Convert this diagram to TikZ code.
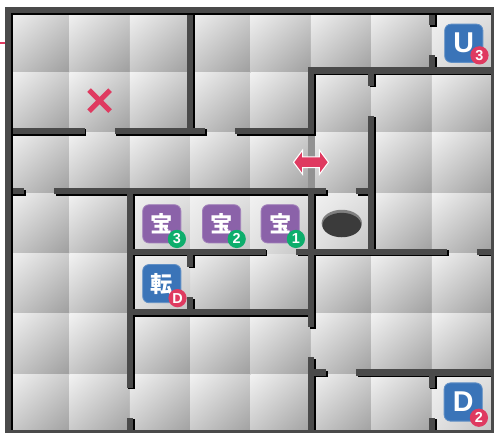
\documentclass[tikz,border=0pt]{standalone}
\usepackage{fontspec}
\setmainfont{Liberation Sans}
\newfontfamily\cjkfont{Noto Sans CJK JP}
\usetikzlibrary{shadings,shapes.misc,shapes.geometric}
\definecolor{wallgray}{HTML}{4A4A4A}
\definecolor{tileblue}{HTML}{3A74B8}
\definecolor{tilepurple}{HTML}{8B62A9}
\definecolor{badgegreen}{HTML}{0DAE6C}
\definecolor{badgered}{HTML}{DF3A60}
\tikzset{
  wall/.style={wallgray, line width=2.9pt, line cap=rect},
  wallshadow/.style={black, line width=2.9pt, line cap=rect, shift={(0.028,0.028)}},
  tile/.style={upper left=white!95!black, upper right=white!80!black, lower left=white!78!black, lower right=white!62!black},
  brighttile/.style={upper left=white!95!black, upper right=white!88!black, lower left=white!88!black, lower right=white!76!black},
  icon/.style={rounded corners=3pt, minimum size=18pt, inner sep=0pt, text=white, font=\cjkfont\bfseries\fontsize{10.5}{11}\selectfont, draw=#1!80!white, line width=0.4pt, fill=#1},
  latinicon/.style={icon=#1, font=\bfseries\fontsize{13.5}{14}\selectfont},
  badge/.style={circle, fill=#1, minimum size=8.6pt, inner sep=0pt, text=white, font=\bfseries\fontsize{6.8}{7}\selectfont}
}
\begin{document}
\begin{tikzpicture}[x=1cm, y=-1cm]
    \useasboundingbox (-0.149,-0.166) rectangle (8.03,7.003);
    \fill[white] (-0.149,-0.166) rectangle (8.03,7.003);

    % Floor tiles
    \foreach \x in {0,...,7}
      \foreach \y in {0,...,6}
        \shade[tile] (\x,\y+0.03) rectangle (\x+1,\y+1.03);
    \foreach \x/\y in {7/0,2/3,3/3,4/3,5/3,2/4,7/6}
        \shade[brighttile] (\x,\y+0.03) rectangle (\x+1,\y+1.03);

    % Entrance mark
    \draw[badgered, line width=0.8pt] (-0.149,0.55) -- (-0.06,0.55);

    % One-way wall under the arrow
    \fill[wallgray!60] (4.945,2) rectangle (5.06,3);

    % Walls
    \foreach \pass in {wallshadow,wall}
      \foreach \xa/\ya/\xb/\yb in {
        3/0/3/2, 0/2/1.2/2, 1.8/2/3.2/2, 3.8/2/5/2, 5/2/5/1, 5/1/8/1,
        6/1/6/1.2, 6/1.8/6/4, 7/0/7/0.2, 7/0.8/7/1,
        0/3/0.2/3, 0.8/3/5.2/3, 5.8/3/6/3,
        2/3/2/6.2, 2/6.8/2/7, 5/3/5/5.2, 5/5.8/5/7,
        2/4/4.2/4, 4.8/4/7.2/4, 7.8/4/8/4, 3/4/3/4.2, 3/4.8/3/5,
        2/5/5/5, 5/6/5.2/6, 5.8/6/8/6, 7/6/7/6.2, 7/6.8/7/7}
        \draw[\pass] (\xa,\ya) -- (\xb,\yb);
    \draw[black, line width=2.9pt] (0.018,0.028) rectangle (8.1,7.1);
    \draw[wallgray, line width=2.9pt] (-0.01,0) rectangle (8.025,7.005);

    % Pit
    \node[ellipse, fill=wallgray!70, minimum width=19pt, minimum height=12.7pt, inner sep=0pt] (pitrim) at (5.51,3.53) {};
    \node[ellipse, fill=wallgray!80!black, minimum width=18.2pt, minimum height=11.5pt, inner sep=0pt] (pit) at (5.51,3.56) {};

    % Cross mark
    \node[cross out, draw=badgered, line width=2.4pt, minimum size=7.5pt, inner sep=0pt] (cross) at (1.5,1.5) {};

    % Two-way arrow
    \draw[fill=badgered, draw=white, line width=0.5pt]
      (4.71,2.52) -- (4.86,2.32) -- (4.86,2.43) -- (5.14,2.43) -- (5.14,2.32) -- (5.29,2.52)
      -- (5.14,2.72) -- (5.14,2.61) -- (4.86,2.61) -- (4.86,2.72) -- cycle;

    % Icons
    \node[latinicon=tileblue] (upstairs) at (7.53,0.55) {U};
    \node[badge=badgered] (upnum) at (7.79,0.75) {3};
    \node[latinicon=tileblue] (downstairs) at (7.52,6.49) {D};
    \node[badge=badgered] (downnum) at (7.78,6.75) {2};
    \node[icon=tilepurple] (treasurec) at (2.53,3.54) {宝};
    \node[badge=badgegreen] (treasurecnum) at (2.78,3.79) {3};
    \node[icon=tilepurple] (treasureb) at (3.52,3.54) {宝};
    \node[badge=badgegreen] (treasurebnum) at (3.77,3.79) {2};
    \node[icon=tilepurple] (treasurea) at (4.49,3.54) {宝};
    \node[badge=badgegreen] (treasureanum) at (4.75,3.79) {1};
    \node[icon=tileblue] (warp) at (2.53,4.53) {転};
    \node[badge=badgered] (warpnum) at (2.79,4.77) {D};
\end{tikzpicture}
\end{document}
